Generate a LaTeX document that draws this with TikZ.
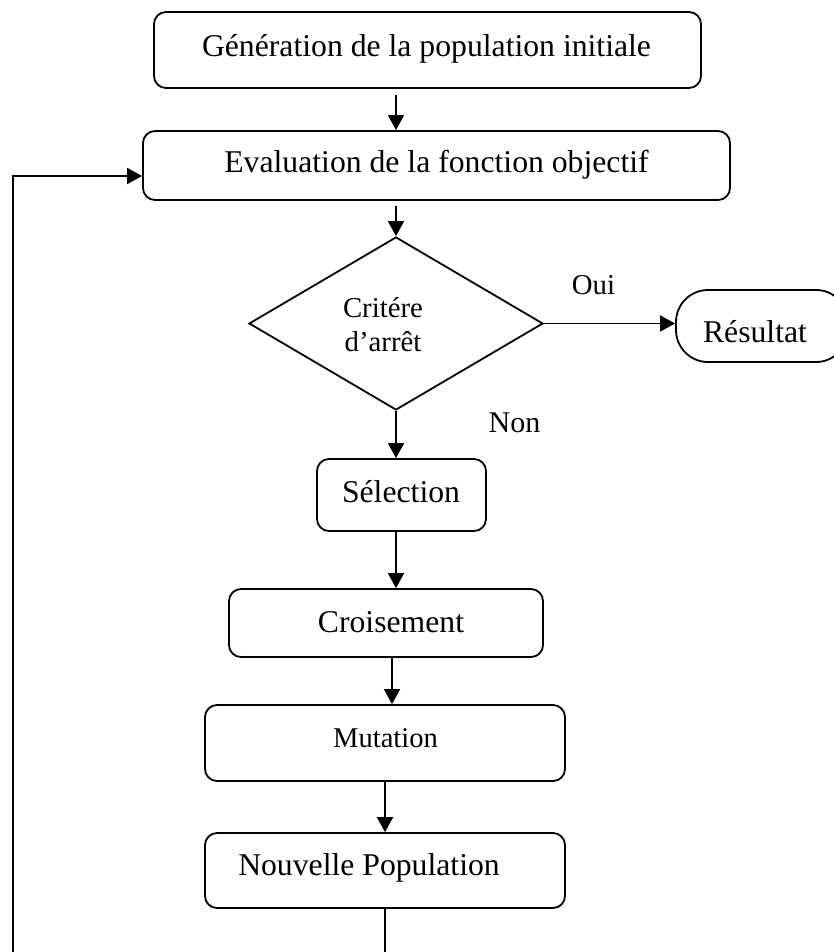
\documentclass[tikz,border=0pt]{standalone}
\usepackage{fontspec}
\setmainfont{Liberation Serif}
\usetikzlibrary{arrows.meta,shapes.geometric}
\begin{document}
\begin{tikzpicture}[x=1pt,y=-1pt,
  line width=1.8pt,
  box/.style={draw,rounded corners=12pt,inner sep=0pt,line width=1.8pt},
  txt/.style={anchor=base,inner sep=0pt,font=\fontsize{31.7}{38}\selectfont},
  smalltxt/.style={anchor=base,inner sep=0pt,font=\fontsize{28.8}{34}\selectfont},
  arr/.style={-{Triangle[length=15pt,width=16pt]}},
]
\useasboundingbox (0,0) rectangle (833,952);

% boxes
\node[box,minimum width=547pt,minimum height=76pt] (gen) at (427.5,50) {};
\node[box,minimum width=587pt,minimum height=69pt] (eval) at (436.5,165.5) {};
\node[draw,diamond,minimum width=294pt,minimum height=173pt,inner sep=0pt,line width=1.8pt] (dia) at (396,323.5) {};
\node[box,rounded corners=32pt,minimum width=172pt,minimum height=72pt] (res) at (762,326) {};
\node[box,minimum width=169pt,minimum height=72pt] (sel) at (401.5,495) {};
\node[box,minimum width=314pt,minimum height=68pt] (cro) at (386,623) {};
\node[box,minimum width=360pt,minimum height=76pt] (mut) at (385,743) {};
\node[box,minimum width=360pt,minimum height=75pt] (nouv) at (385,870.5) {};

% texts
\node[txt] (tgen) at (426.5,57) {Génération de la population initiale};
\node[txt] (teval) at (436.5,173) {Evaluation de la fonction objectif};
\node[smalltxt] (tcrit1) at (383,317) {Critére};
\node[smalltxt] (tcrit2) at (383,351) {d’arrêt};
\node[txt] (tres) at (755,342) {Résultat};
\node[smalltxt] (toui) at (593.5,294) {Oui};
\node[txt,font=\fontsize{30}{36}\selectfont] (tnon) at (514.5,432) {Non};
\node[txt] (tsel) at (401,502) {Sélection};
\node[txt] (tcro) at (391,632) {Croisement};
\node[anchor=base,inner sep=0pt,font=\fontsize{28.6}{34}\selectfont] (tmut) at (385.5,747) {Mutation};
\node[txt] (tnouv) at (369,875) {Nouvelle Population};

% loop ends
\coordinate (loopend) at (386,952);
\coordinate (loopstart) at (13,952);

% connectors
\draw[arr,shorten <=6pt] (gen.south -| dia.north) -- (eval.north -| dia.north);
\draw[arr,shorten <=5pt] (eval.south -| dia.north) -- (dia.north);
\draw[arr] (dia.east) -- (dia.east -| res.west);
\draw[arr] (dia.south) -- (dia.south |- sel.north);
\draw[arr] (sel.south -| dia.south) -- (cro.north -| dia.south);
\draw[arr] ([xshift=7pt]mut.north |- cro.south) -- ([xshift=7pt]mut.north);
\draw[arr] (mut.south) -- (nouv.north);
\draw (nouv.south) -- (nouv.south |- loopend);
\draw[arr] (loopstart) |- ([yshift=-10.5pt]eval.west);
\end{tikzpicture}
\end{document}
